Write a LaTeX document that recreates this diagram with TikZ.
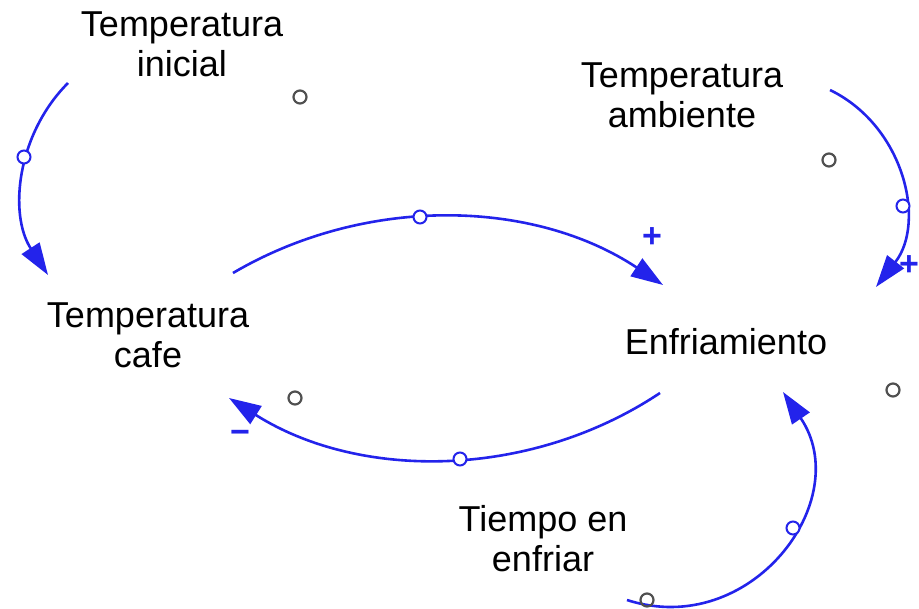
\documentclass[tikz,border=0pt]{standalone}
\usepackage{fontspec}
\setmainfont{Liberation Sans}
\usetikzlibrary{arrows.meta}
\definecolor{linkblue}{RGB}{35,35,235}
\definecolor{ghost}{RGB}{80,80,80}
\tikzset{
  varname/.style={inner sep=0pt, outer sep=0pt, anchor=north, align=center, font=\fontsize{36}{40}\selectfont},
  link/.style={draw=linkblue, line width=2.6pt, -{Triangle[length=32pt,width=21pt]}},
  handle/.style={circle, draw=linkblue, fill=white, line width=2pt, minimum size=13pt, inner sep=0pt},
  shadowmark/.style={circle, draw=ghost, line width=2.2pt, minimum size=13pt, inner sep=0pt},
  polarity/.style={text=linkblue, font=\fontsize{34}{34}\selectfont\bfseries, inner sep=0pt}
}
\begin{document}
\begin{tikzpicture}[x=1pt,y=-1pt]
\useasboundingbox (0,0) rectangle (919,609);
% variables
\node[varname] (ti) at (182,12) {Temperatura\\inicial};
\node[varname] (ta) at (682,63) {Temperatura\\ambiente};
\node[varname] (tc) at (148,303) {Temperatura\\cafe};
\node[varname] (en) at (726,328) {Enfriamiento};
\node[varname] (te) at (543,505) {Tiempo en\\enfriar};
% connector ends
\coordinate (ti-s) at (68,83);   \coordinate (tc-in1) at (48,275);
\coordinate (tc-s) at (233,273); \coordinate (en-in1) at (663,285);
\coordinate (ta-s) at (830,90);  \coordinate (en-in2) at (876,287);
\coordinate (en-s) at (660,393); \coordinate (tc-in2) at (229,398);
\coordinate (te-s) at (627,600); \coordinate (en-in3) at (783,392);
% links
\draw[link] (ti-s) to[bend right=39, looseness=0.96] (tc-in1);
\draw[link] (tc-s) to[bend left=32, looseness=0.92] (en-in1);
\draw[link] (ta-s) to[bend left=51, looseness=1.04] (en-in2);
\draw[link] (en-s) to[bend left=33, looseness=0.92] (tc-in2);
\draw[link] (te-s) to[bend right=71, looseness=1.28] (en-in3);
% handles
\node[handle] (h1) at (24,157) {};
\node[handle] (h2) at (420,217) {};
\node[handle] (h3) at (903,206) {};
\node[handle] (h4) at (460,459) {};
\node[handle] (h5) at (793,528) {};
% shadow markers
\node[shadowmark] (g1) at (300,97) {};
\node[shadowmark] (g2) at (829,160) {};
\node[shadowmark] (g3) at (295,398) {};
\node[shadowmark] (g4) at (893,390) {};
\node[shadowmark] (g5) at (647,600) {};
% polarities
\node[polarity] (p1) at (652,238) {+};
\node[polarity] (p2) at (909,266) {+};
\node[polarity] (p3) at (240,437) {\char"2212};
\end{tikzpicture}
\end{document}
